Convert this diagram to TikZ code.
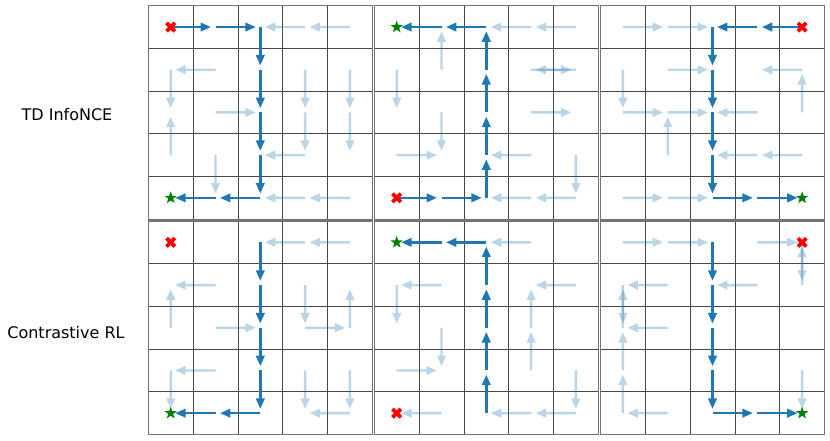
\documentclass[tikz,border=0pt]{standalone}
\usepackage{fontspec}
\setmainfont{DejaVu Sans}
\usetikzlibrary{arrows.meta,shapes.geometric}
\definecolor{mplblue}{HTML}{1F77B4}
\definecolor{mplgreen}{HTML}{008000}
\definecolor{mplred}{HTML}{FF0000}
\tikzset{
  arr/.style={line width=2.4pt, -{Triangle[length=10.5pt,width=8.5pt]}},
  dk/.style={arr, draw=mplblue},
  lt/.style={arr, draw=mplblue},
  ltgroup/.style={transparency group, opacity=0.3},
  gl/.style={draw=black!72, line width=0.7pt},
  frame/.style={draw=black!55, line width=1.2pt},
  goal/.style={star, star points=5, star point ratio=2.5, minimum size=13pt, inner sep=0pt, fill=mplgreen},
  lbl/.style={font=\fontsize{16}{19}\selectfont, anchor=base},
  xmark/.pic={\draw[mplred, line width=3.8pt] (-4.2pt,-4.2pt) -- (4.2pt,4.2pt) (-4.2pt,4.2pt) -- (4.2pt,-4.2pt);}
}
\newcommand\gpanel[5]{%
\begin{scope}[shift={(#1pt,-#2pt)}, x=44.8pt, y=-42.7pt]
 \fill[white] (0,0) rectangle (5,5);
 \foreach \ii in {1,...,4} {\draw[gl] (\ii,0) -- (\ii,5); \draw[gl] (0,\ii) -- (5,\ii);}
 \draw[frame] (0,0) rectangle (5,5);
 \foreach \ci/\ri/\dx/\dy in {#4} {\begin{scope}[ltgroup]\draw[lt] ({\ci+0.5},{\ri+0.5}) -- ++({0.9*(\dx)},{0.9*(\dy)});\end{scope}}
 \foreach \ci/\ri/\dx/\dy in {#3} {\draw[dk] ({\ci+0.5},{\ri+0.5}) -- ++({0.9*(\dx)},{0.9*(\dy)});}
 #5
\end{scope}}
\begin{document}
\begin{tikzpicture}[x=1pt,y=-1pt]
\useasboundingbox (0,0) rectangle (830,441);
\fill[white] (0,0) rectangle (830,441);
\node[lbl] (t1) at (67,121) {TD InfoNCE};
\node[lbl] (t2) at (66,338) {Contrastive RL};
% Panel 1
\gpanel{148.3}{5.7}
 {0/0/1/0, 1/0/1/0, 2/0/0/1, 2/1/0/1, 2/2/0/1, 2/3/0/1, 1/4/-1/0, 2/4/-1/0}
 {3/0/-1/0, 4/0/-1/0, 0/1/0/1, 1/1/-1/0, 3/1/0/1, 4/1/0/1, 1/2/1/0, 3/2/0/1, 4/2/0/1, 0/3/0/-1, 1/3/0/1, 3/3/-1/0, 3/4/-1/0, 4/4/-1/0}
 {\pic at (0.5,0.5) {xmark}; \node[goal] (g1) at (0.5,4.5) {};}
% Panel 2
\gpanel{374.3}{5.7}
 {1/0/-1/0, 2/0/-1/0, 2/1/0/-1, 2/2/0/-1, 2/3/0/-1, 2/4/0/-1, 0/4/1/0, 1/4/1/0}
 {3/0/-1/0, 4/0/-1/0, 0/1/0/1, 1/1/0/-1, 3/1/1/0, 4/1/-1/0, 1/2/0/1, 3/2/1/0, 0/3/1/0, 3/3/-1/0, 4/3/0/1, 3/4/-1/0, 4/4/-1/0}
 {\pic at (0.5,4.5) {xmark}; \node[goal] (g2) at (0.5,0.5) {};}
% Panel 3
\gpanel{600.5}{5.7}
 {2/0/0/1, 3/0/-1/0, 4/0/-1/0, 2/1/0/1, 2/2/0/1, 2/3/0/1, 2/4/1/0, 3/4/1/0}
 {0/0/1/0, 1/0/1/0, 0/1/0/1, 1/1/1/0, 4/1/-1/0, 0/2/1/0, 1/2/1/0, 3/2/-1/0, 4/2/0/-1, 1/3/0/-1, 3/3/-1/0, 4/3/-1/0, 0/4/1/0, 1/4/1/0}
 {\pic at (4.5,0.5) {xmark}; \node[goal] (g3) at (4.5,4.5) {};}
% Panel 4
\gpanel{148.3}{221}
 {2/0/0/1, 2/1/0/1, 2/2/0/1, 2/3/0/1, 1/4/-1/0, 2/4/-1/0}
 {3/0/-1/0, 4/0/-1/0, 1/1/-1/0, 3/1/0/1, 0/2/0/-1, 1/2/1/0, 3/2/1/0, 4/2/0/-1, 0/3/0/1, 1/3/-1/0, 3/3/0/1, 4/3/0/1, 4/4/-1/0}
 {\pic at (0.5,0.5) {xmark}; \node[goal] (g4) at (0.5,4.5) {};}
% Panel 5
\gpanel{374.3}{221}
 {1/0/-1/0, 2/0/-1/0, 2/1/0/-1, 2/2/0/-1, 2/3/0/-1, 2/4/0/-1}
 {3/0/-1/0, 0/1/0/1, 1/1/-1/0, 4/1/-1/0, 1/2/0/1, 3/2/0/-1, 0/3/1/0, 3/3/0/-1, 4/3/0/1, 1/4/-1/0, 3/4/-1/0, 4/4/-1/0}
 {\pic at (0.5,4.5) {xmark}; \node[goal] (g5) at (0.5,0.5) {};}
% Panel 6
\gpanel{600.5}{221}
 {2/0/0/1, 2/1/0/1, 2/2/0/1, 2/3/0/1, 2/4/1/0, 3/4/1/0}
 {0/0/1/0, 1/0/1/0, 3/0/1/0, 4/0/0/1, 0/1/0/1, 1/1/-1/0, 3/1/-1/0, 4/1/0/-1, 0/2/0/-1, 1/2/-1/0, 0/3/0/-1, 4/3/0/1, 0/4/0/-1, 1/4/-1/0}
 {\pic at (4.5,0.5) {xmark}; \node[goal] (g6) at (4.5,4.5) {};}
\end{tikzpicture}
\end{document}
